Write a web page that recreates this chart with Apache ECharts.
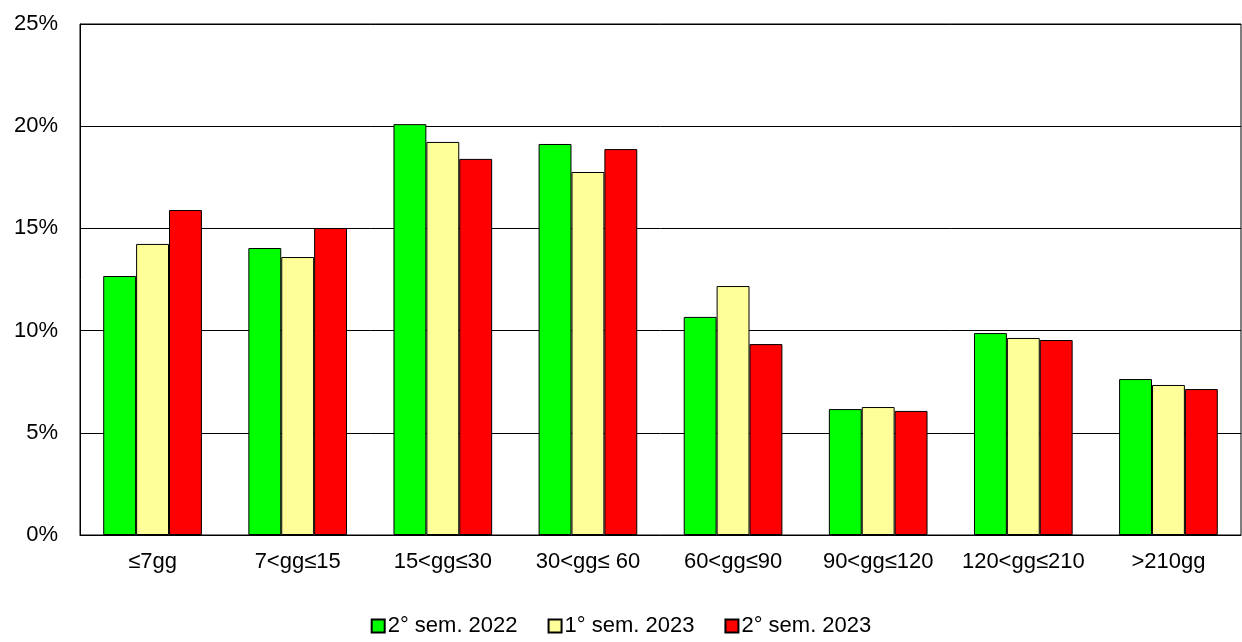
<!DOCTYPE html>
<html>
<head>
<meta charset="utf-8">
<script src="https://cdn.jsdelivr.net/npm/echarts@6/dist/echarts.min.js"></script>
<style>html,body{margin:0;padding:0;background:#fff}#c{width:1242px;height:642px}</style>
</head>
<body>
<div id="c"></div>
<script>
var categories = ['≤7gg', '7<gg≤15', '15<gg≤30', '30<gg≤ 60', '60<gg≤90', '90<gg≤120', '120<gg≤210', '>210gg'];
var sem2_2022 = [12.67, 14.04, 20.1, 19.13, 10.67, 6.16, 9.88, 7.63];
var sem1_2023 = [14.24, 13.6, 19.23, 17.76, 12.18, 6.26, 9.64, 7.34];
var sem2_2023 = [15.9, 15.02, 18.4, 18.88, 9.34, 6.07, 9.54, 7.14];

var chart = echarts.init(document.getElementById('c'));
var font = 'Liberation Sans, Arial, sans-serif';
function bar(name, data, color) {
    return {
        name: name, type: 'bar', data: data, barGap: '0%', barCategoryGap: '32%',
        itemStyle: { color: color, borderColor: '#000', borderWidth: 1 }
    };
}
chart.setOption({
    animation: false,
    grid: { left: 80, right: 1, top: 24, bottom: 107, show: true, borderColor: '#000', borderWidth: 1 },
    legend: {
        bottom: 0, left: 'center', icon: 'rect', itemWidth: 13, itemHeight: 13, itemGap: 30,
        textStyle: { fontFamily: font, fontSize: 22, color: '#000', padding: [0, 0, 0, -2] },
        data: ['2° sem. 2022', '1° sem. 2023', '2° sem. 2023']
    },
    xAxis: {
        type: 'category', data: categories,
        axisLine: { lineStyle: { color: '#000' } },
        axisTick: { show: false },
        axisLabel: { fontFamily: font, fontSize: 22, color: '#000', margin: 16, interval: 0 }
    },
    yAxis: {
        type: 'value', min: 0, max: 25, interval: 5,
        axisLine: { show: true, lineStyle: { color: '#000' } },
        axisTick: { show: false },
        splitLine: { lineStyle: { color: '#000' } },
        axisLabel: { fontFamily: font, fontSize: 22, color: '#000', margin: 22, formatter: '{value}%' }
    },
    series: [
        bar('2° sem. 2022', sem2_2022, '#00ff00'),
        bar('1° sem. 2023', sem1_2023, '#ffff99'),
        bar('2° sem. 2023', sem2_2023, '#ff0000')
    ]
});
</script>
</body>
</html>
